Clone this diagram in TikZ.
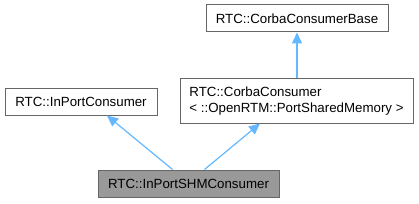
\documentclass[tikz,border=0pt]{standalone}
\usepackage{fontspec}
\setmainfont{Liberation Sans}
\usetikzlibrary{positioning,arrows.meta}
\definecolor{edgeblue}{HTML}{63B8FF}
\definecolor{boxgray}{HTML}{666666}
\definecolor{hlgray}{HTML}{999999}
\begin{document}
\begin{tikzpicture}[x=1pt,y=-1pt,>={Triangle[length=11pt,width=10pt]},
  cls/.style={draw=boxgray,line width=1pt,fill=white,inner sep=0pt,
    font=\fontsize{13.3}{16}\selectfont,minimum height=27pt},
  inh/.style={<-,draw=edgeblue,fill=edgeblue,line width=1.2pt}]
  \useasboundingbox (0,0) rectangle (419,203);
  \node[cls,minimum width=182pt] (base) at (297,18.5) {RTC::CorbaConsumerBase};
  \node[cls,minimum width=152pt] (inport) at (81,101.5) {RTC::InPortConsumer};
  \node[cls,minimum width=233pt,minimum height=44pt,align=left] (corba) at (296.5,101)
    {RTC::CorbaConsumer\\\textless{} ::OpenRTM::PortSharedMemory \textgreater};
  \node[cls,fill=hlgray,minimum width=181pt] (shm) at (188.5,183.5) {RTC::InPortSHMConsumer};
  \draw[inh] ([xshift=26pt]inport.south) -- ([xshift=-16pt]shm.north);
  \draw[inh] ([xshift=-36.5pt]corba.south) -- ([xshift=16pt]shm.north);
  \draw[inh] (base.south) -- (base.south |- corba.north);
\end{tikzpicture}
\end{document}
